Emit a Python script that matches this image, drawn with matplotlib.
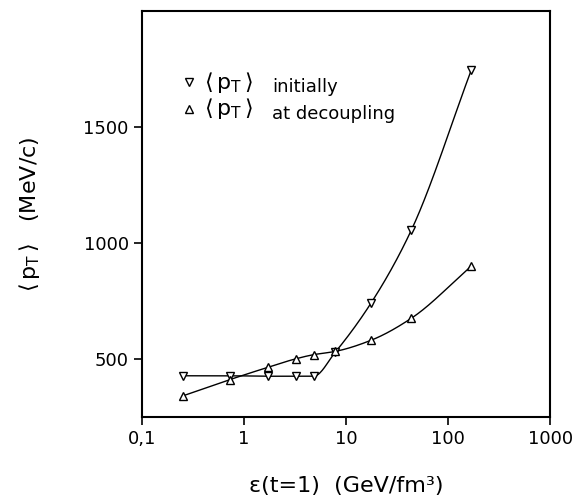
import numpy as np
import matplotlib
matplotlib.use('Agg')
import matplotlib.pyplot as plt

# energy density eps(t=1) in GeV/fm^3
eps = [0.25, 0.72, 1.7, 3.2, 4.8, 7.8, 17.5, 43.5, 168]
# <pT> in MeV/c
pt_initial = [427, 427, 425, 425, 425, 528, 740, 1055, 1745]
pt_decoupling = [340, 410, 463, 500, 518, 532, 580, 675, 900]

xticks = [0.1, 1, 10, 100, 1000]
xticklabels = ['0,1', '1', '10', '100', '1000']
yticks = [500, 1000, 1500]


def pchip(x, y, xs):
    # monotone cubic through the points, used only for drawing the curve
    x = np.asarray(x, float)
    y = np.asarray(y, float)
    h = np.diff(x)
    d = np.diff(y) / h
    m = np.zeros_like(y)
    m[0] = d[0]
    m[-1] = d[-1]
    for k in range(1, len(x) - 1):
        if d[k - 1] * d[k] <= 0:
            m[k] = 0.0
        else:
            w1 = 2 * h[k] + h[k - 1]
            w2 = h[k] + 2 * h[k - 1]
            m[k] = (w1 + w2) / (w1 / d[k - 1] + w2 / d[k])
    i = np.clip(np.searchsorted(x, xs) - 1, 0, len(x) - 2)
    t = (xs - x[i]) / h[i]
    h00 = 2 * t**3 - 3 * t**2 + 1
    h10 = t**3 - 2 * t**2 + t
    h01 = -2 * t**3 + 3 * t**2
    h11 = t**3 - t**2
    return h00 * y[i] + h10 * h[i] * m[i] + h01 * y[i + 1] + h11 * h[i] * m[i + 1]


plt.rcParams['mathtext.fontset'] = 'dejavusans'

fig = plt.figure(figsize=(5.75, 5.04), dpi=100)
ax = fig.add_axes([0.247, 0.173, 0.710, 0.805])

lx = np.log10(eps)
xs = np.linspace(lx[0], lx[-1], 400)
ax.plot(10**xs, pchip(lx, pt_initial, xs), color='black', lw=1.0)
ax.plot(10**xs, pchip(lx, pt_decoupling, xs), color='black', lw=1.0)

mk = dict(linestyle='none', markersize=6, markerfacecolor='white',
          markeredgecolor='black', markeredgewidth=1.0)
ax.plot(eps, pt_initial, marker='v', **mk)
ax.plot(eps, pt_decoupling, marker='^', **mk)

ax.set_xscale('log')
ax.set_xlim(0.1, 1000)
ax.set_ylim(250, 2000)
ax.set_xticks(xticks)
ax.set_xticklabels(xticklabels)
ax.xaxis.set_minor_locator(matplotlib.ticker.NullLocator())
ax.set_yticks(yticks)

ax.tick_params(direction='out', length=6, width=1.2, labelsize=13,
               top=False, right=False)
for s in ax.spines.values():
    s.set_linewidth(1.5)

ax.set_xlabel(r'ε(t=1)  (GeV/fm³)', fontsize=16, labelpad=20)
ax.set_ylabel(r'$\langle\,\mathrm{p_T}\,\rangle$   (MeV/c)', fontsize=16, labelpad=30)

# legend drawn by hand
leg = [('v', 'initially', 0.825), ('^', 'at decoupling', 0.759)]
for m, txt, yy in leg:
    ax.plot([0.115], [yy], marker=m, transform=ax.transAxes, clip_on=False, **mk)
    ax.text(0.152, yy, r'$\langle\,\mathrm{p_T}\,\rangle$', transform=ax.transAxes,
            fontsize=16, va='center', ha='left')
    ax.text(0.318, yy - 0.013, txt, transform=ax.transAxes,
            fontsize=13, va='center', ha='left')

fig.savefig('out.png', dpi=100)
